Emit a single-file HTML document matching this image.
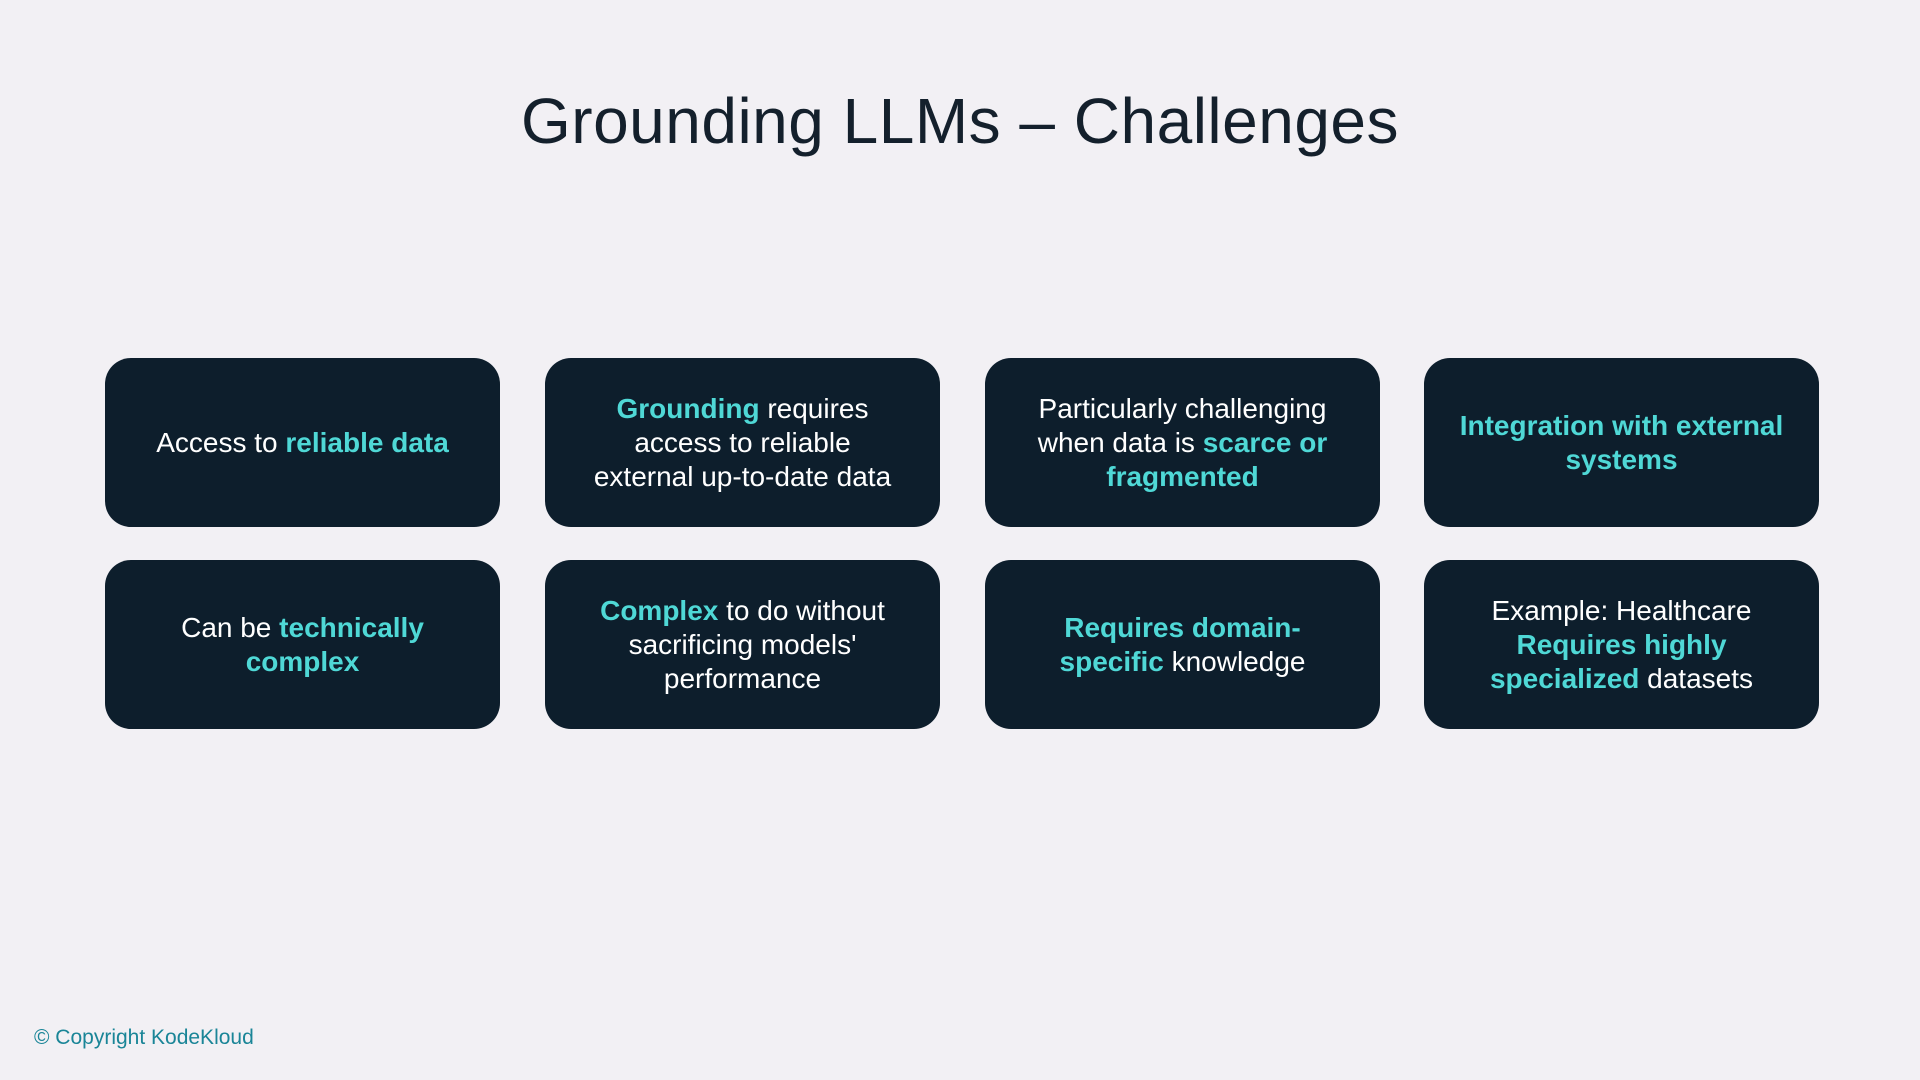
<!DOCTYPE html>
<html><head><meta charset="utf-8"><style>
html,body{margin:0;padding:0}
body{width:1920px;height:1080px;background:#f2f0f4;position:relative;overflow:hidden;font-family:"Liberation Sans",sans-serif}
h1{position:absolute;top:84px;left:0;width:1920px;text-align:center;margin:0;font-weight:400;font-size:64px;color:#14202c;letter-spacing:0.5px}
.b{position:absolute;width:395px;height:169px;background:#0d1e2c;border-radius:26px;display:flex;align-items:center;justify-content:center;text-align:center;color:#fff;font-size:28px;line-height:34px;box-sizing:border-box;padding:0 20px}
.h{color:#4fd8d6;font-weight:bold}
.c{position:absolute;left:34px;top:1026px;font-size:21px;color:#1a8597}
</style></head><body>
<h1>Grounding LLMs – Challenges</h1>
<div class="b" style="left:105px;top:358px">Access to&nbsp;<span class="h">reliable data</span></div>
<div class="b" style="left:545px;top:358px"><div><span class="h">Grounding</span> requires<br>access to reliable<br>external up-to-date data</div></div>
<div class="b" style="left:985px;top:358px"><div>Particularly challenging<br>when data is <span class="h">scarce or<br>fragmented</span></div></div>
<div class="b" style="left:1424px;top:358px"><div><span class="h">Integration with external<br>systems</span></div></div>
<div class="b" style="left:105px;top:560px"><div>Can be <span class="h">technically<br>complex</span></div></div>
<div class="b" style="left:545px;top:560px"><div><span class="h">Complex</span> to do without<br>sacrificing models'<br>performance</div></div>
<div class="b" style="left:985px;top:560px"><div><span class="h">Requires domain-<br>specific</span> knowledge</div></div>
<div class="b" style="left:1424px;top:560px"><div>Example: Healthcare<br><span class="h">Requires highly<br>specialized</span> datasets</div></div>
<div class="c">© Copyright KodeKloud</div>
</body></html>
